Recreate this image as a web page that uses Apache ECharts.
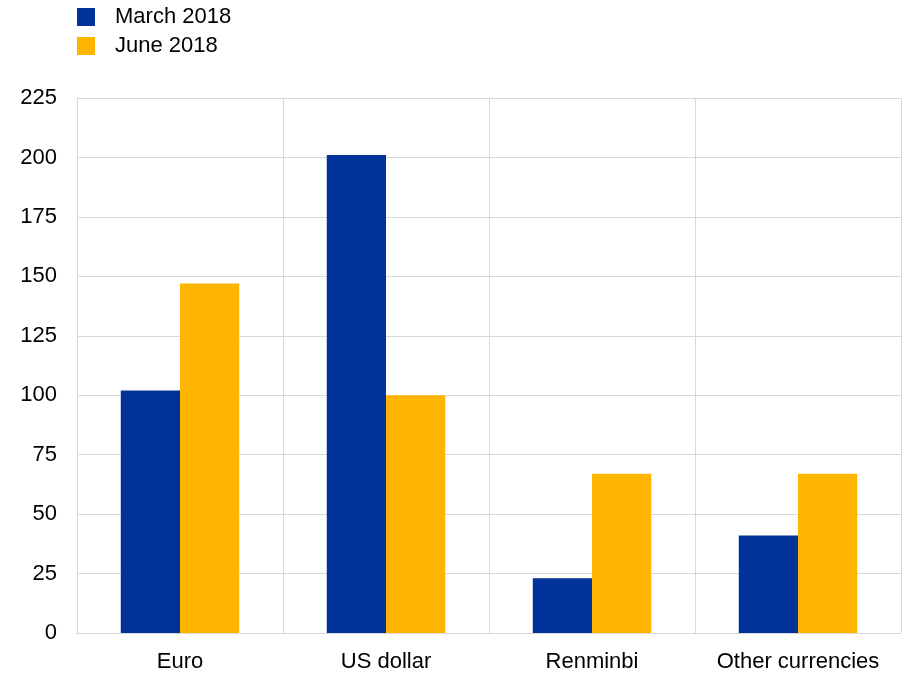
<!DOCTYPE html>
<html>
<head>
<meta charset="utf-8">
<script src="https://cdn.jsdelivr.net/npm/echarts@6/dist/echarts.min.js"></script>
<style>
  html, body { margin: 0; padding: 0; background: #fff; }
  #main { width: 904px; height: 675px; }
</style>
</head>
<body>
<div id="main"></div>
<script>
var categories = ['Euro', 'US dollar', 'Renminbi', 'Other currencies'];
var march2018 = [102, 201, 23, 41];
var june2018 = [147, 100, 67, 67];
var yTicks = [0, 25, 50, 75, 100, 125, 150, 175, 200, 225];

var myChart = echarts.init(document.getElementById('main'));
var font = '"Liberation Sans", Arial, sans-serif';

var option = {
    animation: false,
    textStyle: { fontFamily: font },
    legend: {
        orient: 'vertical',
        left: 72,
        top: 1,
        itemWidth: 18,
        itemHeight: 18,
        itemGap: 7,
        icon: 'rect',
        textStyle: { fontSize: 22, color: '#000', fontFamily: font, padding: [0, 0, 0, 15] },
        data: ['March 2018', 'June 2018']
    },
    grid: { left: 77, right: 3, top: 98, bottom: 42 },
    xAxis: {
        type: 'category',
        data: categories,
        axisLine: { show: true, lineStyle: { color: '#d9d9d9', width: 1 } },
        axisTick: { show: false },
        splitLine: { show: true, interval: 0, lineStyle: { color: '#d9d9d9', width: 1 } },
        axisLabel: { interval: 0, fontSize: 22, color: '#000', margin: 18, fontFamily: font }
    },
    yAxis: {
        type: 'value',
        min: yTicks[0],
        max: yTicks[yTicks.length - 1],
        interval: 25,
        axisLine: { show: true, lineStyle: { color: '#d9d9d9' } },
        axisTick: { show: false },
        splitLine: { lineStyle: { color: '#d9d9d9', width: 1 } },
        axisLabel: { fontSize: 22, color: '#000', margin: 20, fontFamily: font }
    },
    series: [
        {
            name: 'March 2018',
            type: 'bar',
            data: march2018,
            barGap: '0%',
            barCategoryGap: '42.5%',
            itemStyle: { color: '#003299' }
        },
        {
            name: 'June 2018',
            type: 'bar',
            data: june2018,
            barGap: '0%',
            barCategoryGap: '42.5%',
            itemStyle: { color: '#ffb400' }
        }
    ]
};
myChart.setOption(option);
</script>
</body>
</html>
